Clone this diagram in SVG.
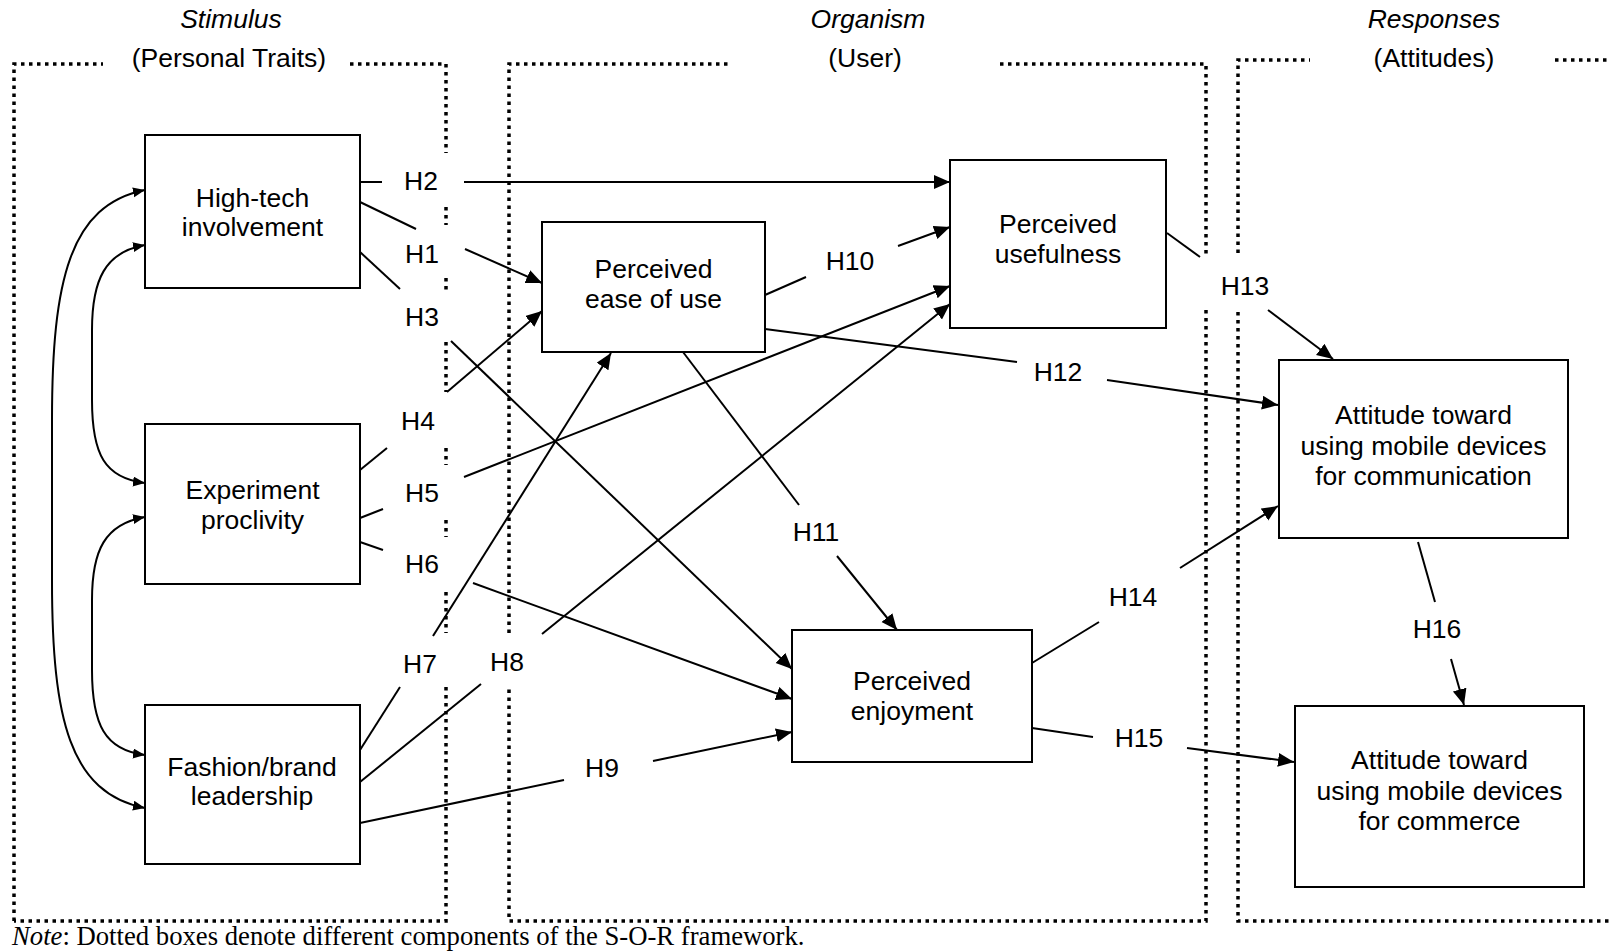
<svg xmlns="http://www.w3.org/2000/svg" width="1610" height="952" viewBox="0 0 1610 952">
<defs>
<style>
.dot{fill:none;stroke:#000;stroke-width:3.5;stroke-dasharray:3.5 4.5}
.box{fill:#fff;stroke:#000;stroke-width:2}
.ln{fill:none;stroke:#000;stroke-width:2}
.ar{fill:none;stroke:#000;stroke-width:2;marker-end:url(#ah)}
.cv{fill:none;stroke:#000;stroke-width:2;marker-start:url(#sh);marker-end:url(#sh)}
text{font-family:"Liberation Sans",Arial,sans-serif;font-size:26.5px;fill:#000}
.c{text-anchor:middle}
.it{font-style:italic}
.note{font-family:"Liberation Serif","Times New Roman",serif;font-size:26.7px}
</style>
<marker id="ah" markerUnits="userSpaceOnUse" markerWidth="18" markerHeight="16" refX="16" refY="7" orient="auto">
<path d="M0,0 L16,7 L0,14 z" fill="#000"/>
</marker>
<marker id="sh" markerUnits="userSpaceOnUse" markerWidth="14" markerHeight="12" refX="12" refY="5" orient="auto-start-reverse">
<path d="M0,0 L12,5 L0,10 z" fill="#000"/>
</marker>
</defs>
<rect width="1610" height="952" fill="#fff"/>

<g id="frame-stimulus">
<path class="dot" d="M14,921 V64 H103"/>
<path class="dot" d="M350,64 H446 V153"/>
<path class="dot" d="M446,207 V225 M446,278 V290 M446,342 V392 M446,448 V465 M446,520 V537 M446,592 V633 M446,687 V921 H14"/>
<text class="c it" x="231" y="28">Stimulus</text>
<text class="c" x="229" y="67">(Personal Traits)</text>
</g>

<g id="frame-organism">
<path class="dot" d="M509,633 V64 H732"/>
<path class="dot" d="M1000,64 H1206 V257"/>
<path class="dot" d="M1206,310 V921 H509 V685"/>
<text class="c it" x="868" y="28">Organism</text>
<text class="c" x="865" y="67">(User)</text>
</g>

<g id="frame-responses">
<path class="dot" d="M1238,253 V60 H1310"/>
<path class="dot" d="M1555,60 H1610"/>
<path class="dot" d="M1238,312 V921 H1610"/>
<text class="c it" x="1434" y="28">Responses</text>
<text class="c" x="1434" y="67">(Attitudes)</text>
</g>

<g id="connectors">
<path class="cv" d="M145,190 C70,205 52,280 52,420 L52,580 C52,720 70,793 145,808"/>
<path class="cv" d="M145,245 C105,252 92,280 92,330 L92,400 C92,455 105,478 145,483"/>
<path class="cv" d="M145,517 C105,524 92,550 92,600 L92,670 C92,725 105,750 145,755"/>

<line class="ln" x1="360" y1="182" x2="382" y2="182"/>
<line class="ar" x1="464" y1="182" x2="950" y2="182"/>
<line class="ln" x1="360" y1="202" x2="416" y2="229"/>
<line class="ar" x1="465" y1="249" x2="542" y2="283"/>
<line class="ln" x1="360" y1="252" x2="400" y2="289"/>
<line class="ar" x1="451" y1="341" x2="792" y2="669"/>
<line class="ln" x1="360" y1="470" x2="387" y2="448"/>
<line class="ar" x1="447" y1="392" x2="542" y2="311"/>
<line class="ln" x1="360" y1="518" x2="383" y2="509"/>
<line class="ar" x1="464" y1="477" x2="950" y2="286"/>
<line class="ln" x1="360" y1="542" x2="383" y2="550"/>
<line class="ar" x1="473" y1="583" x2="792" y2="699"/>
<line class="ln" x1="360" y1="750" x2="400" y2="687"/>
<line class="ar" x1="433" y1="636" x2="611" y2="353"/>
<line class="ln" x1="360" y1="782" x2="481" y2="684"/>
<line class="ar" x1="542" y1="634" x2="950" y2="304"/>
<line class="ln" x1="360" y1="823" x2="564" y2="780"/>
<line class="ar" x1="653" y1="761" x2="792" y2="732"/>
<line class="ln" x1="765" y1="295" x2="806" y2="277"/>
<line class="ar" x1="898" y1="246" x2="950" y2="227"/>
<line class="ln" x1="683" y1="352" x2="799" y2="505"/>
<line class="ar" x1="837" y1="556" x2="897" y2="630"/>
<line class="ln" x1="765" y1="329" x2="1017" y2="362"/>
<line class="ar" x1="1107" y1="380" x2="1278" y2="405"/>
<line class="ln" x1="1167" y1="233" x2="1200" y2="257"/>
<line class="ar" x1="1268" y1="310" x2="1333" y2="359"/>
<line class="ln" x1="1032" y1="663" x2="1099" y2="622"/>
<line class="ar" x1="1180" y1="568" x2="1278" y2="506"/>
<line class="ln" x1="1032" y1="728" x2="1093" y2="737"/>
<line class="ar" x1="1187" y1="748" x2="1294" y2="762"/>
<line class="ln" x1="1418" y1="542" x2="1435" y2="602"/>
<line class="ar" x1="1451" y1="659" x2="1464" y2="705"/>

<text class="c" x="421" y="190">H2</text>
<text class="c" x="422" y="263">H1</text>
<text class="c" x="422" y="326">H3</text>
<text class="c" x="418" y="430">H4</text>
<text class="c" x="422" y="502">H5</text>
<text class="c" x="422" y="573">H6</text>
<text class="c" x="420" y="673">H7</text>
<text class="c" x="507" y="671">H8</text>
<text class="c" x="602" y="777">H9</text>
<text class="c" x="850" y="270">H10</text>
<text class="c" x="816" y="541">H11</text>
<text class="c" x="1058" y="381">H12</text>
<text class="c" x="1245" y="295">H13</text>
<text class="c" x="1133" y="606">H14</text>
<text class="c" x="1139" y="747">H15</text>
<text class="c" x="1437" y="638">H16</text>
</g>

<g id="node-hightech">
<rect class="box" x="145" y="135" width="215" height="153"/>
<text class="c" x="252.5" y="207">High-tech</text>
<text class="c" x="252.5" y="236">involvement</text>
</g>
<g id="node-experiment">
<rect class="box" x="145" y="424" width="215" height="160"/>
<text class="c" x="252.5" y="499">Experiment</text>
<text class="c" x="252.5" y="529">proclivity</text>
</g>
<g id="node-fashion">
<rect class="box" x="145" y="705" width="215" height="159"/>
<text class="c" x="252" y="776">Fashion/brand</text>
<text class="c" x="252" y="805">leadership</text>
</g>
<g id="node-ease">
<rect class="box" x="542" y="222" width="223" height="130"/>
<text class="c" x="653.5" y="278">Perceived</text>
<text class="c" x="653.5" y="308">ease of use</text>
</g>
<g id="node-usefulness">
<rect class="box" x="950" y="160" width="216" height="168"/>
<text class="c" x="1058" y="233">Perceived</text>
<text class="c" x="1058" y="263">usefulness</text>
</g>
<g id="node-enjoyment">
<rect class="box" x="792" y="630" width="240" height="132"/>
<text class="c" x="912" y="690">Perceived</text>
<text class="c" x="912" y="720">enjoyment</text>
</g>
<g id="node-communication">
<rect class="box" x="1279" y="360" width="289" height="178"/>
<text class="c" x="1423.5" y="424">Attitude toward</text>
<text class="c" x="1423.5" y="455">using mobile devices</text>
<text class="c" x="1423.5" y="485">for communication</text>
</g>
<g id="node-commerce">
<rect class="box" x="1295" y="706" width="289" height="181"/>
<text class="c" x="1439.5" y="769">Attitude toward</text>
<text class="c" x="1439.5" y="800">using mobile devices</text>
<text class="c" x="1439.5" y="830">for commerce</text>
</g>

<text class="note" x="12" y="945"><tspan font-style="italic">Note</tspan>: Dotted boxes denote different components of the S-O-R framework.</text>
</svg>
